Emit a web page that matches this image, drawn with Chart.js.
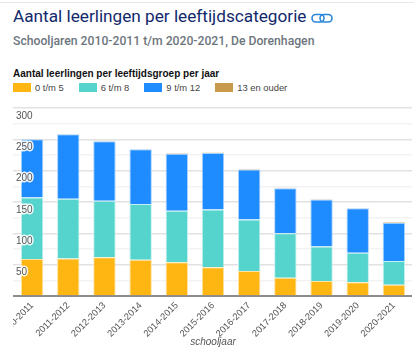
<!DOCTYPE html>
<html>
<head>
<meta charset="utf-8">
<script src="https://cdn.jsdelivr.net/npm/chart.js@4"></script>
<style>
  html, body { margin: 0; padding: 0; background: #fff; overflow: hidden; }
  body { width: 414px; height: 358px; position: relative; }
  #topline { position: absolute; left: 0; top: 2px; width: 414px; height: 1px; background: #e8e8e8; }
  h1 { position: absolute; left: 13px; top: 6px; margin: 0; font: 400 17.2px Roboto, sans-serif; color: #12296b; white-space: nowrap; }
  h2 { position: absolute; left: 13px; top: 34px; margin: 0; font: 500 12.2px Roboto, sans-serif; color: #6c757d; white-space: nowrap; }
  #link { position: absolute; left: 311px; top: 12px; }
  #legendTitle { position: absolute; left: 13px; top: 68px; font: bold 10px "Liberation Sans", sans-serif; color: #111; white-space: nowrap; }
  #legend { position: absolute; left: 13px; top: 81px; display: flex; font: 9.4px/13px "Liberation Sans", sans-serif; color: #444; }
  #legend span.item { display: flex; align-items: center; margin-right: 15px; white-space: nowrap; }
  #legend i { display: block; width: 18px; height: 9px; margin-right: 4px; }
  #wrap { position: absolute; left: 13px; top: 100px; width: 399px; height: 248px; }
</style>
</head>
<body>
<div id="topline"></div>
<h1>Aantal leerlingen per leeftijdscategorie</h1>
<svg id="link" width="22" height="12" viewBox="0 0 22 12" fill="none" stroke="#2b86d9" stroke-width="1.6">
  <rect x="1" y="2.5" width="12" height="7.5" rx="3.7"></rect>
  <rect x="9" y="2.5" width="12" height="7.5" rx="3.7"></rect>
</svg>
<h2>Schooljaren 2010-2011 t/m 2020-2021, De Dorenhagen</h2>
<div id="legendTitle">Aantal leerlingen per leeftijdsgroep per jaar</div>
<div id="legend"></div>
<div id="wrap"><canvas id="chart"></canvas></div>
<script>
const schooljaren = ['2010-2011', '2011-2012', '2012-2013', '2013-2014', '2014-2015', '2015-2016', '2016-2017', '2017-2018', '2018-2019', '2019-2020', '2020-2021'];
const jongsten = [59, 60, 62, 58, 54, 46, 40, 29, 24, 22, 18];
const middenbouw = [98, 95, 90, 89, 82, 92, 82, 71, 55, 47, 38];
const bovenbouw = [93, 103, 95, 87, 91, 90, 80, 72, 75, 71, 61];
const oudsten = [1, 1, 1, 1, 1, 1, 1, 1, 1, 1, 1];

const data = {
  labels: schooljaren,
  datasets: [
    { label: '0 t/m 5', data: jongsten, backgroundColor: '#ffb612', borderColor: '#ffe3a6' },
    { label: '6 t/m 8', data: middenbouw, backgroundColor: '#55d4ce', borderColor: '#c4f1ee' },
    { label: '9 t/m 12', data: bovenbouw, backgroundColor: '#1e8cff', borderColor: '#a9d3ff' },
    { label: '13 en ouder', data: oudsten, backgroundColor: '#c89b4c', borderColor: '#f0dfc0' },
  ],
};
data.datasets.forEach((d) => {
  d.borderWidth = 1;
  d.barPercentage = 0.62;
  d.categoryPercentage = 1;
});

const config = {
  type: 'bar',
  data: data,
  options: {
    responsive: true,
    maintainAspectRatio: false,
    animation: false,
    layout: { autoPadding: false, padding: { top: 8 } },
    plugins: {
      tooltip: { enabled: false },
      legend: { display: false },
    },
    scales: {
      x: {
        stacked: true,
        grid: { display: false },
        border: { color: '#8c8c8c', width: 2 },
        title: {
          display: true,
          text: 'schooljaar',
          color: '#555',
          padding: { top: 0, bottom: 0 },
          font: { family: 'Liberation Sans', size: 10, style: 'italic' },
        },
        ticks: {
          autoSkip: false,
          minRotation: 45,
          maxRotation: 45,
          padding: -4,
          color: '#555',
          font: { family: 'Liberation Sans', size: 9.3 },
        },
        // eerste label mag afgesneden worden, net als in het origineel
        afterFit: (scale) => {
          scale.paddingLeft = 0;
          scale.paddingRight = 0;
          scale.height = 52;
        },
      },
      y: {
        stacked: true,
        min: 0,
        max: 300,
        border: { display: false },
        grid: {
          lineWidth: 1.5,
          tickLength: 1,
          color: (ctx) => (ctx.tick.value % 50 === 0 ? '#e2e2e2' : '#f3f3f3'),
        },
        ticks: {
          stepSize: 25,
          mirror: true,
          padding: 2,
          labelOffset: 8,
          z: 1,
          color: '#555',
          textStrokeColor: 'rgba(255,255,255,0.9)',
          textStrokeWidth: 3,
          font: { family: 'Liberation Sans', size: 10 },
          callback: (v) => (v === 0 || v % 50 !== 0 ? '' : v),
        },
        afterFit: (scale) => {
          scale.width = 1;
        },
      },
    },
  },
};

const leerlingenChart = new Chart(document.getElementById('chart'), config);

// legenda als html, opgebouwd uit dezelfde datasets
const legendEl = document.getElementById('legend');
data.datasets.forEach((d) => {
  const item = document.createElement('span');
  item.className = 'item';
  const box = document.createElement('i');
  box.style.background = d.backgroundColor;
  item.appendChild(box);
  item.appendChild(document.createTextNode(d.label));
  legendEl.appendChild(item);
});
</script>
</body>
</html>
